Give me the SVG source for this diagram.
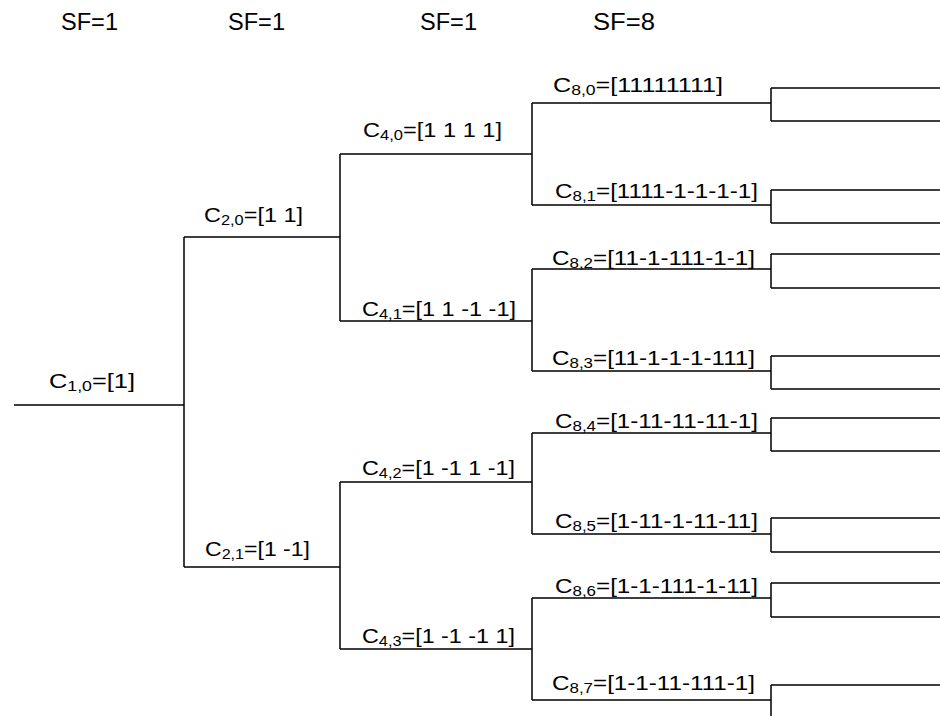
<svg xmlns="http://www.w3.org/2000/svg" width="940" height="716" viewBox="0 0 940 716">
<style>
text{font-family:"Liberation Sans",Arial,sans-serif;font-size:20px;fill:#000}
.sf{font-size:23px}
.s{font-size:14px}
.ln{fill:none;stroke:#000;stroke-width:1.5}
</style>
<rect width="940" height="716" fill="#fff"/>
<g id="sf-labels">
<text class="sf" x="61" y="30" textLength="57" lengthAdjust="spacingAndGlyphs">SF=1</text>
<text class="sf" x="228" y="30" textLength="57" lengthAdjust="spacingAndGlyphs">SF=1</text>
<text class="sf" x="420" y="30" textLength="57" lengthAdjust="spacingAndGlyphs">SF=1</text>
<text class="sf" x="593" y="30" textLength="62" lengthAdjust="spacingAndGlyphs">SF=8</text>
</g>
<g id="connectors" class="ln">
<path d="M14 405H184M184 237V567"/>
<path d="M184 237H340M340 154V321"/>
<path d="M184 567H340M340 482V649"/>
<path d="M340 154H532M532 103V205"/>
<path d="M340 321H532M532 269V371"/>
<path d="M340 482H532M532 433V534"/>
<path d="M340 649H532M532 598V700"/>
<path d="M532 103H771M771 88V121M771 88H940M771 121H940"/>
<path d="M532 205H771M771 190V223M771 190H940M771 223H940"/>
<path d="M532 269H771M771 254V288M771 254H940M771 288H940"/>
<path d="M532 371H771M771 356V389M771 356H940M771 389H940"/>
<path d="M532 433H771M771 418V451M771 418H940M771 451H940"/>
<path d="M532 534H771M771 518V552M771 518H940M771 552H940"/>
<path d="M532 598H771M771 583V617M771 583H940M771 617H940"/>
<path d="M532 700H771M771 685V716M771 685H940"/>
</g>
<g id="c1-0"><text x="49" y="388" textLength="86" lengthAdjust="spacingAndGlyphs">C<tspan class="s" dy="3">1,0</tspan><tspan dy="-3">=[1]</tspan></text></g>
<g id="c2-0"><text x="204" y="222" textLength="99" lengthAdjust="spacingAndGlyphs">C<tspan class="s" dy="3">2,0</tspan><tspan dy="-3">=[1 1]</tspan></text></g>
<g id="c2-1"><text x="205" y="556" textLength="105" lengthAdjust="spacingAndGlyphs">C<tspan class="s" dy="3">2,1</tspan><tspan dy="-3">=[1 -1]</tspan></text></g>
<g id="c4-0"><text x="363" y="137" textLength="139" lengthAdjust="spacingAndGlyphs">C<tspan class="s" dy="3">4,0</tspan><tspan dy="-3">=[1 1 1 1]</tspan></text></g>
<g id="c4-1"><text x="362" y="316" textLength="154" lengthAdjust="spacingAndGlyphs">C<tspan class="s" dy="3">4,1</tspan><tspan dy="-3">=[1 1 -1 -1]</tspan></text></g>
<g id="c4-2"><text x="362" y="475" textLength="153" lengthAdjust="spacingAndGlyphs">C<tspan class="s" dy="3">4,2</tspan><tspan dy="-3">=[1 -1 1 -1]</tspan></text></g>
<g id="c4-3"><text x="362" y="643" textLength="153" lengthAdjust="spacingAndGlyphs">C<tspan class="s" dy="3">4,3</tspan><tspan dy="-3">=[1 -1 -1 1]</tspan></text></g>
<g id="c8-0"><text x="553" y="92" textLength="170" lengthAdjust="spacingAndGlyphs">C<tspan class="s" dy="3">8,0</tspan><tspan dy="-3">=[11111111]</tspan></text></g>
<g id="c8-1"><text x="555" y="198" textLength="203" lengthAdjust="spacingAndGlyphs">C<tspan class="s" dy="3">8,1</tspan><tspan dy="-3">=[1111-1-1-1-1]</tspan></text></g>
<g id="c8-2"><text x="552" y="265" textLength="203" lengthAdjust="spacingAndGlyphs">C<tspan class="s" dy="3">8,2</tspan><tspan dy="-3">=[11-1-111-1-1]</tspan></text></g>
<g id="c8-3"><text x="552" y="365" textLength="203" lengthAdjust="spacingAndGlyphs">C<tspan class="s" dy="3">8,3</tspan><tspan dy="-3">=[11-1-1-1-111]</tspan></text></g>
<g id="c8-4"><text x="555" y="428" textLength="203" lengthAdjust="spacingAndGlyphs">C<tspan class="s" dy="3">8,4</tspan><tspan dy="-3">=[1-11-11-11-1]</tspan></text></g>
<g id="c8-5"><text x="555" y="528" textLength="203" lengthAdjust="spacingAndGlyphs">C<tspan class="s" dy="3">8,5</tspan><tspan dy="-3">=[1-11-1-11-11]</tspan></text></g>
<g id="c8-6"><text x="555" y="593" textLength="203" lengthAdjust="spacingAndGlyphs">C<tspan class="s" dy="3">8,6</tspan><tspan dy="-3">=[1-1-111-1-11]</tspan></text></g>
<g id="c8-7"><text x="552" y="690" textLength="203" lengthAdjust="spacingAndGlyphs">C<tspan class="s" dy="3">8,7</tspan><tspan dy="-3">=[1-1-11-111-1]</tspan></text></g>
</svg>
